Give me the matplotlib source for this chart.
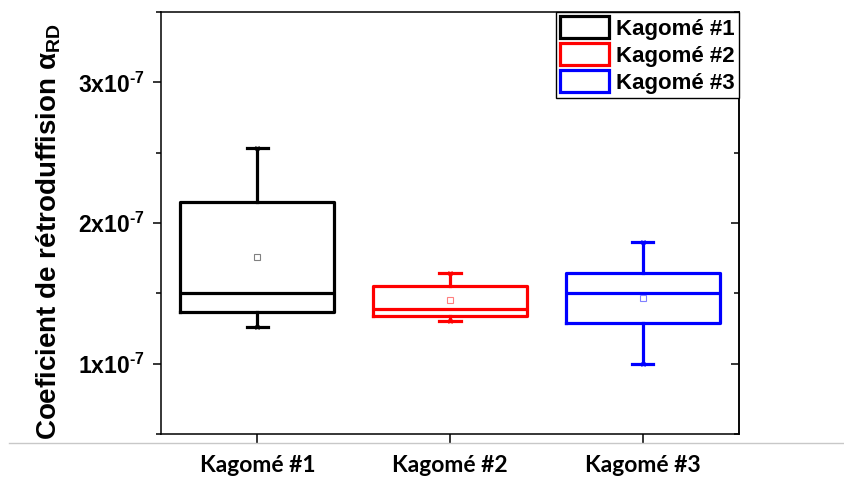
import matplotlib
matplotlib.use("Agg")
import matplotlib.pyplot as plt
from matplotlib.patches import Patch
from matplotlib.lines import Line2D
from matplotlib.ticker import FixedLocator, MultipleLocator

plt.rcParams['font.family'] = ['Liberation Sans', 'DejaVu Sans']
plt.rcParams['font.weight'] = 'bold'

# box statistics (units of 1e-7)
labels = ['Kagomé #1', 'Kagomé #2', 'Kagomé #3']
colors = ['#000000', '#ff0000', '#0000ff']
mean_colors = ['#808080', '#ff8080', '#8080ff']
whislo = [1.26, 1.30, 1.00]
q1 = [1.37, 1.34, 1.29]
med = [1.50, 1.39, 1.50]
q3 = [2.15, 1.55, 1.645]
whishi = [2.53, 1.645, 1.865]
means = [1.76, 1.45, 1.47]

ytick_vals = [1, 2, 3]
scale = 1e-7

fig = plt.figure(figsize=(8.44, 4.79), dpi=100)
ax = fig.add_axes([0.1908, 0.0939, 0.6848, 0.8811])

for i in range(len(labels)):
    c = colors[i]
    stats = [dict(med=med[i] * scale, q1=q1[i] * scale, q3=q3[i] * scale,
                  whislo=whislo[i] * scale, whishi=whishi[i] * scale,
                  mean=means[i] * scale, fliers=[], label=labels[i])]
    ax.bxp(stats, positions=[i + 1], widths=0.8, capwidths=0.11,
           showmeans=True, showfliers=False,
           boxprops=dict(color=c, lw=2.3),
           whiskerprops=dict(color=c, lw=2.3),
           capprops=dict(color=c, lw=2.3),
           medianprops=dict(color=c, lw=2.3),
           meanprops=dict(marker='s', markersize=4.5, markerfacecolor='none',
                          markeredgecolor=mean_colors[i], markeredgewidth=0.8))
    # min / max markers at the whisker ends
    ax.plot([i + 1, i + 1], [whislo[i] * scale, whishi[i] * scale], 'x',
            color=c, ms=3.5, mew=0.8)

ax.set_xlim(0.5, 3.5)
ax.set_ylim(0.5e-7, 3.5e-7)

ax.set_xticks([1, 2, 3])
ax.set_xticklabels(labels, family=['Lato', 'DejaVu Sans'], fontweight='bold',
                   fontsize=16.5)
ax.yaxis.set_major_locator(FixedLocator([v * scale for v in ytick_vals]))
ax.set_yticklabels([r'$\mathregular{%dx10^{‐7}}$' % v for v in ytick_vals],
                   fontsize=16.5)
ax.yaxis.set_minor_locator(MultipleLocator(0.5e-7))

ax.tick_params(axis='x', which='major', direction='out', length=7, width=1.1,
               pad=8, top=False)
ax.tick_params(axis='y', which='major', direction='out', length=6, width=1.1,
               pad=6, right=False)
ax.tick_params(axis='y', which='minor', direction='out', length=3.5, width=1.1,
               right=False)
for s in ax.spines.values():
    s.set_linewidth(1.1)

# right side ticks point inwards
sec = ax.secondary_yaxis('right')
sec.yaxis.set_major_locator(FixedLocator([v * scale for v in ytick_vals]))
sec.yaxis.set_minor_locator(MultipleLocator(0.5e-7))
sec.tick_params(which='major', direction='in', length=5.5, width=1.1,
                labelright=False)
sec.tick_params(which='minor', direction='in', length=3.5, width=1.1)
sec.spines['right'].set_linewidth(1.1)

ax.set_ylabel('Coeficient de rétroduffision $\\mathregular{α_{RD}}$',
              fontsize=20, fontweight='bold')
ax.yaxis.set_label_coords(-0.17, 0.48)

handles = [Patch(facecolor='none', edgecolor=c, lw=2.3) for c in colors]
leg = ax.legend(handles, labels, loc='upper right', bbox_to_anchor=(1, 1),
                borderaxespad=0, handlelength=2.2,
                handleheight=1.15, handletextpad=0.3, labelspacing=0.15,
                borderpad=0.2, fancybox=False, framealpha=1,
                edgecolor='black', prop=dict(weight='bold', size=16))
leg.get_frame().set_linewidth(1.0)

# thin grey rule under the plot
fig.add_artist(Line2D([0.011, 1.0], [1 - 443 / 479, 1 - 443 / 479],
                      color='#c8c8c8', lw=1.0))

fig.savefig('out.png', dpi=100)
